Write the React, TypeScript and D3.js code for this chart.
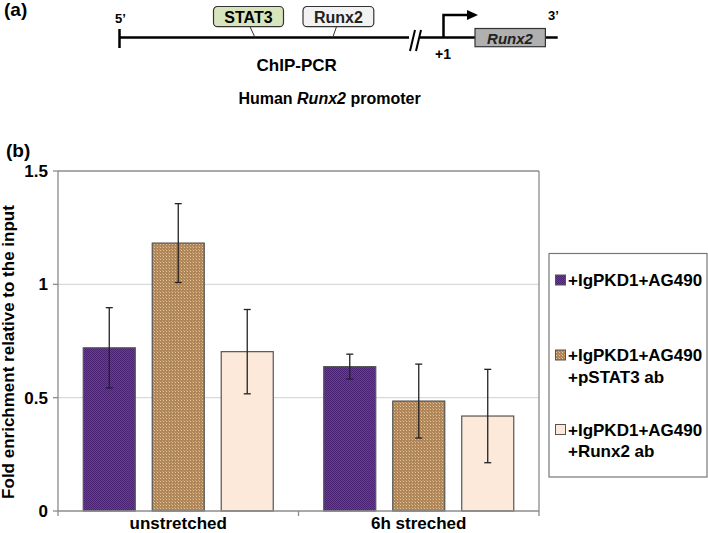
import React from "react";
import * as d3 from "d3";

const categories = ["unstretched", "6h streched"];
const seriesNames = ["+IgPKD1+AG490", "+IgPKD1+AG490 +pSTAT3 ab", "+IgPKD1+AG490 +Runx2 ab"];
const legendLines = [["+IgPKD1+AG490"], ["+IgPKD1+AG490", "+pSTAT3 ab"], ["+IgPKD1+AG490", "+Runx2 ab"]];
const valuesAG490 = [0.72, 0.637];
const valuesPSTAT3 = [1.182, 0.485];
const valuesRunx2 = [0.703, 0.419];
const errAG490 = [0.177, 0.055];
const errPSTAT3 = [0.174, 0.163];
const errRunx2 = [0.186, 0.206];
const yTicks = [0, 0.5, 1, 1.5];
const yTickLabels = ["0", "0.5", "1", "1.5"];

const seriesValues = [valuesAG490, valuesPSTAT3, valuesRunx2];
const seriesErr = [errAG490, errPSTAT3, errRunx2];
const fills = ["url(#patPurple)", "url(#patBrown)", "#fde9d9"];

const FONT = "'Liberation Sans', Arial, sans-serif";

export default function App() {
  const W = 708, H = 533;
  const left = 58, right = 539, top = 171, bottom = 511;
  const x = d3.scaleBand<string>().domain(categories).range([left, right]).paddingInner(0).paddingOuter(0);
  const xs = d3.scaleBand<string>().domain(seriesNames).range([0, x.bandwidth()]).paddingInner(0.246).paddingOuter(0.366);
  const y = d3.scaleLinear().domain([0, 1.5]).range([bottom, top]);
  const capW = 3.5;

  return (
    <svg width={W} height={H} style={{ position: "absolute", left: 0, top: 0, background: "#fff" }} fontFamily={FONT}>
      <defs>
        <pattern id="patPurple" width="2" height="2" patternUnits="userSpaceOnUse">
          <rect width="2" height="2" fill="#6a3a9e" />
          <rect width="1" height="1" fill="#4a2274" />
          <rect x="1" y="1" width="1" height="1" fill="#4a2274" />
        </pattern>
        <pattern id="patBrown" width="3" height="3" patternUnits="userSpaceOnUse">
          <rect width="3" height="3" fill="#b08658" />
          <rect x="1" y="1" width="1" height="1" fill="#e0c49a" />
          <rect x="0" y="0" width="1" height="1" fill="#c8a276" />
        </pattern>
      </defs>

      {/* ---------- panel (a) ---------- */}
      <text x={4} y={16} fontSize={19} fontWeight="bold">(a)</text>
      <line x1={119.5} y1={37.5} x2={409} y2={37.5} stroke="#000" strokeWidth={2.5} />
      <line x1={119.5} y1={29} x2={119.5} y2={48} stroke="#000" strokeWidth={2.5} />
      <text x={115} y={23} fontSize={13} fontWeight="bold">5’</text>
      <line x1={250} y1={26.7} x2={255} y2={37.5} stroke="#333" strokeWidth={1} />
      <rect x={213.5} y={6.5} width={70} height={20.2} rx={4} fill="#d8e4bc" stroke="#333" strokeWidth={1.2} />
      <text x={248.5} y={22.5} fontSize={16} fontWeight="bold" textAnchor="middle">STAT3</text>
      <line x1={336.5} y1={26.7} x2={332.7} y2={37.5} stroke="#333" strokeWidth={1} />
      <rect x={303} y={6.5} width={70.8} height={20.2} rx={4} fill="#f2f2f2" stroke="#333" strokeWidth={1.2} />
      <text x={338.4} y={22.5} fontSize={16} fontWeight="bold" textAnchor="middle" fill="#222">Runx2</text>
      <line x1={410} y1={51} x2={415} y2={30} stroke="#000" strokeWidth={2} />
      <line x1={416} y1={51} x2={421} y2={30} stroke="#000" strokeWidth={2} />
      <line x1={419} y1={37.5} x2={475} y2={37.5} stroke="#000" strokeWidth={2.5} />
      <line x1={545} y1={37.5} x2={557.7} y2={37.5} stroke="#000" strokeWidth={2.5} />
      <rect x={475} y={28.5} width={70.4} height={18.2} fill="#b0b0b0" stroke="#333" strokeWidth={1.2} />
      <text x={510} y={43.5} fontSize={15} fontWeight="bold" fontStyle="italic" textAnchor="middle" fill="#222">Runx2</text>
      <path d="M443.5,37.5 V15 H468" fill="none" stroke="#000" strokeWidth={2.5} />
      <path d="M467,10 L478,15 L467,20 Z" fill="#000" />
      <text x={443} y={58.5} fontSize={14} fontWeight="bold" textAnchor="middle">+1</text>
      <text x={548} y={20} fontSize={13} fontWeight="bold">3’</text>
      <text x={296.7} y={71} fontSize={17} fontWeight="bold" textAnchor="middle">ChIP-PCR</text>
      <text x={329.5} y={104} fontSize={16} fontWeight="bold" textAnchor="middle">
        Human <tspan fontStyle="italic">Runx2</tspan> promoter
      </text>

      {/* ---------- panel (b) ---------- */}
      <text x={6} y={157} fontSize={19} fontWeight="bold">(b)</text>

      {/* gridlines */}
      {yTicks.filter((t) => t > 0 && t < 1.5).map((t) => (
        <line key={"g" + t} x1={left} x2={right} y1={y(t)} y2={y(t)} stroke="#d9d9d9" strokeWidth={1.2} />
      ))}
      {/* plot border */}
      <line x1={left} x2={right} y1={top} y2={top} stroke="#8c8c8c" strokeWidth={1.3} />
      <line x1={right} x2={right} y1={top} y2={bottom} stroke="#8c8c8c" strokeWidth={1.3} />

      {/* bars */}
      {categories.map((c, ci) =>
        seriesNames.map((s, si) => {
          const v = seriesValues[si][ci];
          const bx = (x(c) as number) + (xs(s) as number);
          return (
            <rect key={c + s} x={bx} y={y(v)} width={xs.bandwidth()} height={y(0) - y(v)}
              fill={fills[si]} stroke="#555" strokeWidth={1.2} />
          );
        })
      )}
      {/* error bars */}
      {categories.map((c, ci) =>
        seriesNames.map((s, si) => {
          const v = seriesValues[si][ci];
          const e = seriesErr[si][ci];
          const cx = (x(c) as number) + (xs(s) as number) + xs.bandwidth() / 2;
          return (
            <g key={"e" + c + s} stroke="#222" strokeWidth={1.3}>
              <line x1={cx} x2={cx} y1={y(v + e)} y2={y(v - e)} />
              <line x1={cx - capW} x2={cx + capW} y1={y(v + e)} y2={y(v + e)} />
              <line x1={cx - capW} x2={cx + capW} y1={y(v - e)} y2={y(v - e)} />
            </g>
          );
        })
      )}

      {/* axes */}
      <line x1={left} x2={left} y1={top} y2={bottom} stroke="#8c8c8c" strokeWidth={1.3} />
      <line x1={left} x2={right} y1={bottom} y2={bottom} stroke="#8c8c8c" strokeWidth={1.3} />
      {yTicks.map((t, i) => (
        <g key={"t" + t}>
          <line x1={left - 5} x2={left} y1={y(t)} y2={y(t)} stroke="#8c8c8c" strokeWidth={1.3} />
          <text x={48} y={y(t) + 6} fontSize={17} fontWeight="bold" textAnchor="end">{yTickLabels[i]}</text>
        </g>
      ))}
      {[left, ...categories.map((c) => (x(c) as number) + x.bandwidth())].map((px, i) => (
        <line key={"ct" + i} x1={px} x2={px} y1={bottom} y2={bottom + 5} stroke="#8c8c8c" strokeWidth={1.3} />
      ))}
      {categories.map((c) => (
        <text key={"cl" + c} x={(x(c) as number) + x.bandwidth() / 2} y={529} fontSize={17} fontWeight="bold" textAnchor="middle">{c}</text>
      ))}
      <text transform={`translate(14,352) rotate(-90)`} fontSize={17} fontWeight="bold" textAnchor="middle">
        Fold enrichment relative to the input
      </text>

      {/* legend */}
      <rect x={549} y={253.5} width={158} height={223.5} fill="#fff" stroke="#777" strokeWidth={1.2} />
      {legendLines.map((lines, i) => {
        const y0 = [280, 355, 429.5][i];
        return (
          <g key={"lg" + i}>
            <rect x={555.5} y={y0 - 5} width={10} height={10} fill={fills[i]} stroke="#555" strokeWidth={1} />
            {lines.map((ln, j) => (
              <text key={j} x={568} y={y0 + 6 + j * 21.5} fontSize={17} fontWeight="bold">{ln}</text>
            ))}
          </g>
        );
      })}
    </svg>
  );
}
